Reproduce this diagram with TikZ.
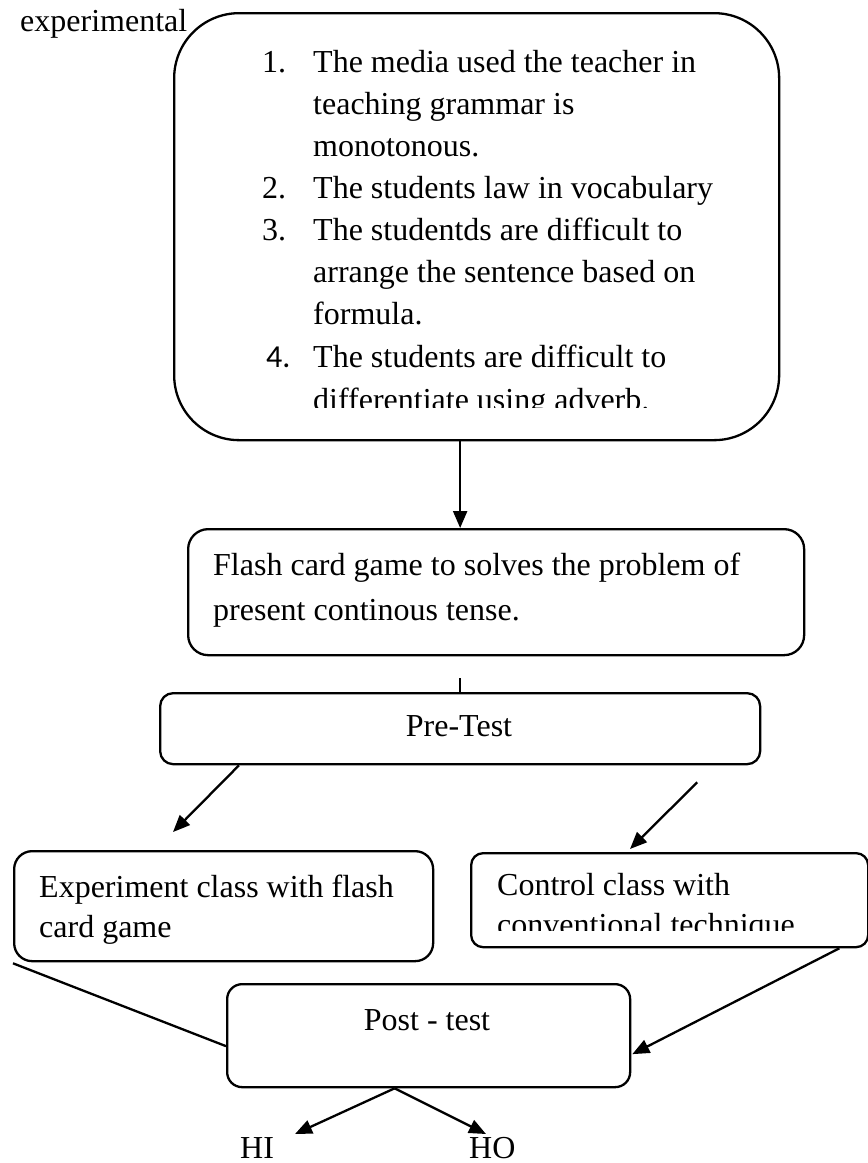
\documentclass[tikz,border=0pt]{standalone}
\usepackage{fontspec}
\setmainfont{Liberation Serif}
\newfontfamily\calibrifont{Carlito}
\usetikzlibrary{arrows.meta,calc}
\begin{document}
\begin{tikzpicture}[x=1pt,y=-1pt,
  box/.style={draw, line width=2.3pt, fill=white, inner sep=0pt, anchor=north west},
  txt/.style={anchor=base west, inner sep=0pt, font=\fontsize{32}{40}\selectfont},
  ctxt/.style={anchor=base, inner sep=0pt, font=\fontsize{32}{40}\selectfont},
  conn/.style={line width=2.3pt},
  arr/.style={line width=2.3pt, -{Triangle[length=17pt,width=14pt]}}
]
\useasboundingbox (0,0) rectangle (868,1163);

% partial text at top left, covered by the first box
\node[txt] (exptop) at (20,31) {experimental};

% boxes
\node[box, rounded corners=65pt, minimum width=605pt, minimum height=427pt] (b1) at (173,12) {};
\node[box, rounded corners=20pt, minimum width=616pt, minimum height=126pt] (b2) at (187,528) {};
\node[box, rounded corners=13pt, minimum width=600pt, minimum height=71pt] (pre) at (159,692) {};
\node[box, rounded corners=18pt, minimum width=419pt, minimum height=110pt] (exp) at (13,850) {};
\node[box, rounded corners=12pt, minimum width=397pt, minimum height=94pt] (ctl) at (470,852) {};
\node[box, rounded corners=15pt, minimum width=403pt, minimum height=103pt] (post) at (226,983) {};

% text of the first box (clipped like an overflowing text box)
\begin{scope}
  \clip (173,12) rectangle (778,407);
  \node[txt] (n1) at (262,72) {1.};
  \node[txt] (t1a) at (313,72) {The media used the teacher in};
  \node[txt] (t1b) at (313,114) {teaching grammar is};
  \node[txt] (t1c) at (313,156) {monotonous.};
  \node[txt] (n2) at (262,198) {2.};
  \node[txt] (t2a) at (313,198) {The students law in vocabulary};
  \node[txt] (n3) at (262,240) {3.};
  \node[txt] (t3a) at (313,240) {The studentds are difficult to};
  \node[txt] (t3b) at (313,282) {arrange the sentence based on};
  \node[txt] (t3c) at (313,324) {formula.};
  \node[txt, font=\fontsize{32}{40}\calibrifont] (n4) at (266,367) {4.};
  \node[txt] (t4a) at (313,367) {The students are difficult to};
  \node[txt] (t4b) at (313,410) {differentiate using adverb.};
\end{scope}

% text of the second box
\node[txt] (t5a) at (213,575) {Flash card game to solves the problem of};
\node[txt] (t5b) at (213,620) {present continous tense.};

\node[ctxt] (t6) at (459,736) {Pre-Test};

\node[txt] (t7a) at (39,897) {Experiment class with flash};
\node[txt] (t7b) at (39,937) {card game};

\begin{scope}
  \clip (470,852) rectangle (867,930);
  \node[txt] (t8a) at (497,895) {Control class with};
  \node[txt] (t8b) at (497,935) {conventional technique};
\end{scope}

\node[ctxt] (t9) at (427,1030) {Post - test};

\node[txt] (hi) at (240,1158) {HI};
\node[txt] (ho) at (469,1158) {HO};
\coordinate (hiTip) at (295,1134);
\coordinate (hoTip) at (486,1134);

% connectors
\draw[arr] (b1.south -| pre.north) -- (b2.north -| pre.north);
\draw[conn] ($(b2.south -| pre.north)+(0,22)$) -- (pre.north);
\draw[arr] ($(pre.south west)+(80,0)$) -- ($(exp.north west)+(160,-18)$);
\draw[arr] ($(pre.south east)+(-64,17)$) -- ($(ctl.north west)+(160,-3)$);
\draw[conn] ($(exp.south west)+(0,1)$) -- ($(post.west)+(0,10.5)$);
\draw[arr] ($(ctl.south east)+(-30,0)$) -- ($(post.east)+(1,18.5)$);
\draw[arr] ($(post.south)+(-34,0)$) -- (hiTip);
\draw[arr] ($(post.south)+(-34,0)$) -- (hoTip);
\end{tikzpicture}
\end{document}
